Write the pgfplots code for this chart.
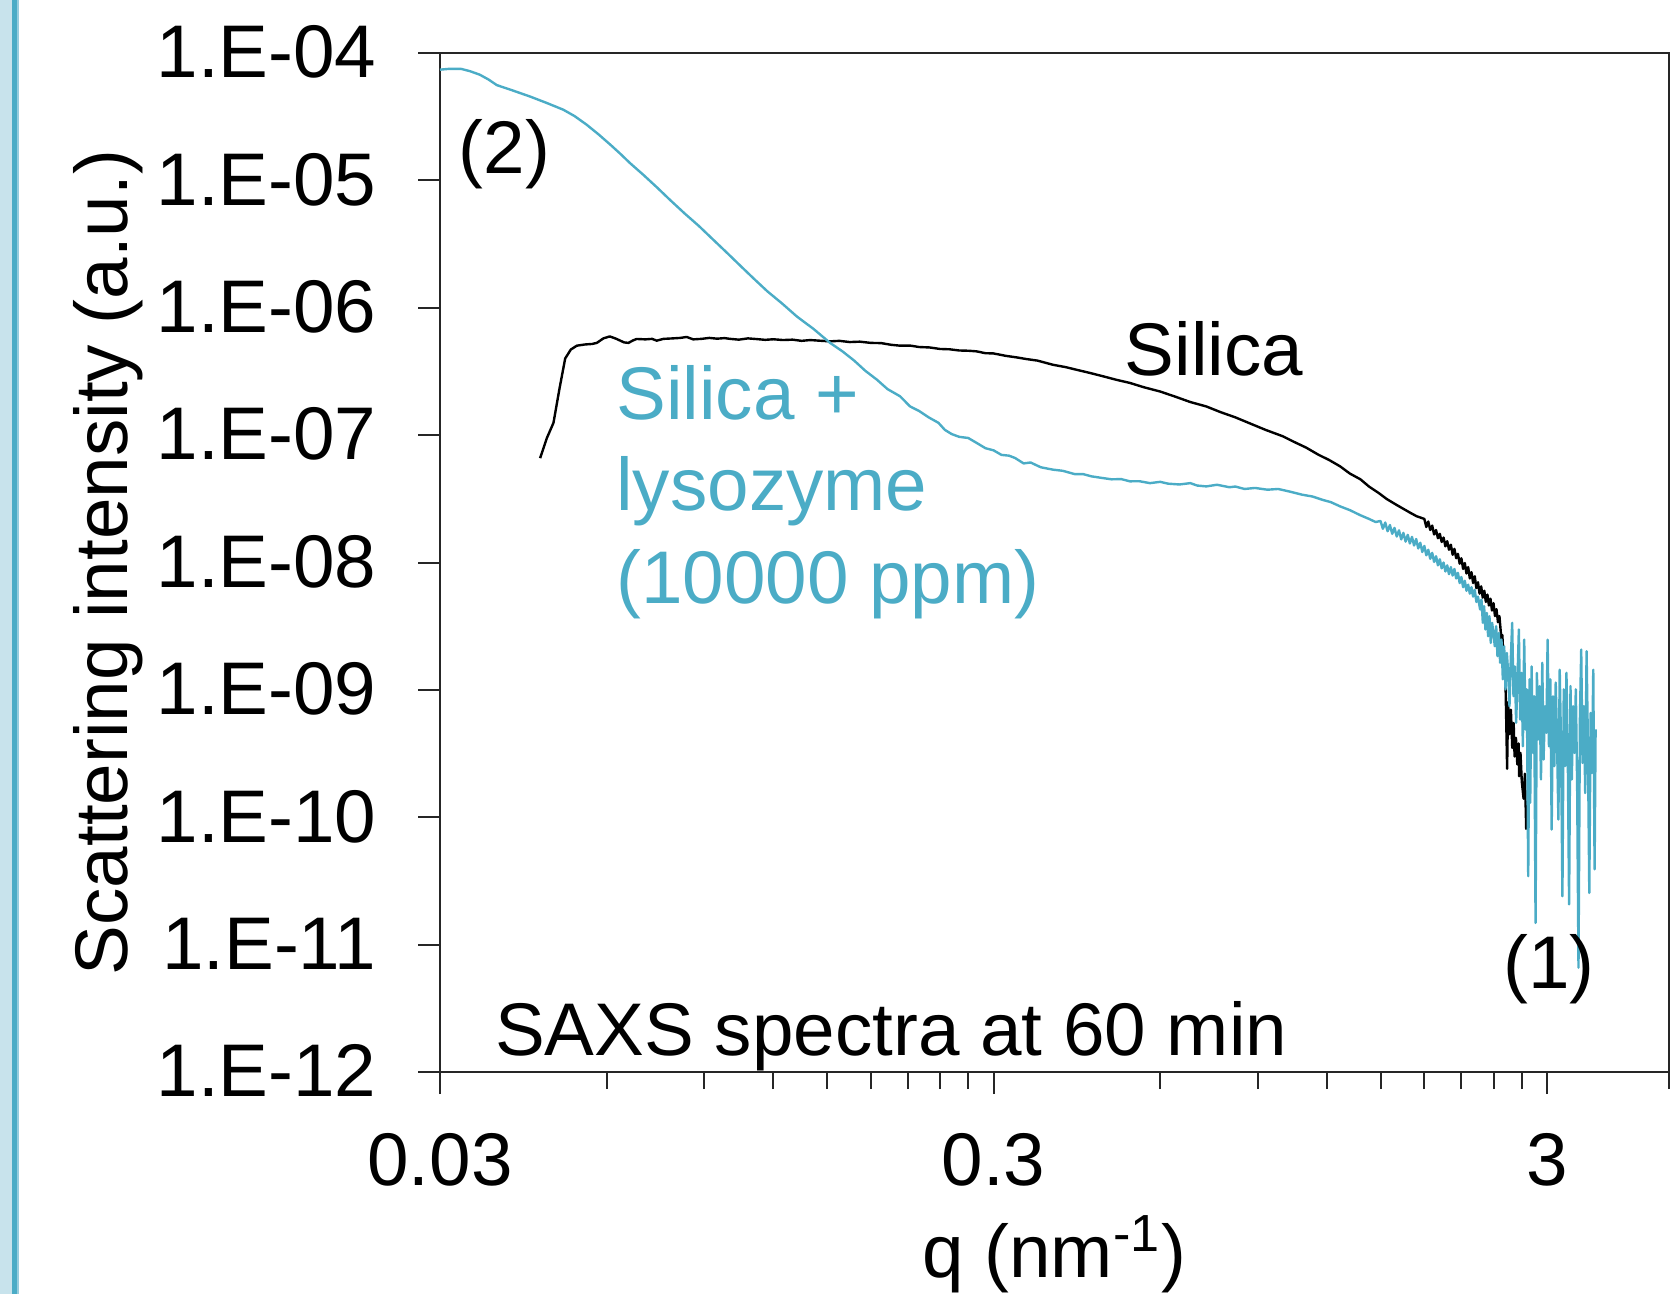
\documentclass[border=0pt]{standalone}
\usepackage{pgfplots}
\pgfplotsset{compat=1.18}
\usepackage{fontspec}
\setmainfont{Liberation Sans}
\definecolor{aqua}{RGB}{75,172,198}
\definecolor{lightaqua}{RGB}{200,227,236}
\definecolor{midaqua}{RGB}{150,205,222}

\pgfplotstableread{
q I
0.0455 6.6e-8
0.0468 9.5e-8
0.0481 1.25e-7
0.0493 2.3e-7
0.0505 4.0e-7
0.0517 4.7e-7
0.0530 5.04e-7
0.0548 5.15e-7
0.0565 5.2e-7
0.0576 5.3e-7
0.0592 5.75e-7
0.0608 5.96e-7
0.0625 5.7e-7
0.0645 5.35e-7
0.0657 5.3e-7
0.0670 5.55e-7
0.0680 5.69e-7
0.0705 5.65e-7
0.0725 5.7e-7
0.0739 5.52e-7
0.0760 5.7e-7
0.0790 5.75e-7
0.0815 5.8e-7
0.0837 5.9e-7
0.0860 5.65e-7
0.0890 5.7e-7
0.0920 5.8e-7
0.0950 5.72e-7
0.0980 5.78e-7
0.1003 5.7e-7
0.1040 5.62e-7
0.1080 5.75e-7
0.1120 5.68e-7
0.1160 5.6e-7
0.1200 5.66e-7
0.1250 5.58e-7
0.1300 5.62e-7
0.1350 5.5e-7
0.1400 5.58e-7
0.1450 5.52e-7
0.1520 5.45e-7
0.1580 5.5e-7
0.1650 5.38e-7
0.1720 5.42e-7
0.1800 5.3e-7
0.1880 5.28e-7
0.1960 5.12e-7
0.2033 5.04e-7
0.2120 5.05e-7
0.2200 4.92e-7
0.2300 4.88e-7
0.2400 4.75e-7
0.2500 4.72e-7
0.2600 4.62e-7
0.2700 4.6e-7
0.2795 4.55e-7
0.2900 4.4e-7
0.3000 4.38e-7
0.3150 4.2e-7
0.3300 4.08e-7
0.3450 3.95e-7
0.3600 3.85e-7
0.3840 3.57e-7
0.4050 3.42e-7
0.4250 3.25e-7
0.4450 3.1e-7
0.4700 2.92e-7
0.5000 2.72e-7
0.5290 2.57e-7
0.5600 2.38e-7
0.6000 2.2e-7
0.6400 2.0e-7
0.6800 1.82e-7
0.7270 1.68e-7
0.7700 1.52e-7
0.8200 1.38e-7
0.8700 1.24e-7
0.9300 1.1e-7
0.9990 9.8e-8
1.0500 8.8e-8
1.1000 8.0e-8
1.1600 7.0e-8
1.2100 6.4e-8
1.2680 5.69e-8
1.3200 5.0e-8
1.3800 4.5e-8
1.4300 3.95e-8
1.4880 3.52e-8
1.5400 3.15e-8
1.6000 2.85e-8
1.6600 2.6e-8
1.7000 2.45e-8
1.7430 2.31e-8
1.800 2.2e-8
1.815 1.9e-8
1.830 2.1e-8
1.845 1.8e-8
1.860 1.95e-8
1.875 1.66e-8
1.890 1.8e-8
1.905 1.55e-8
1.920 1.68e-8
1.935 1.45e-8
1.950 1.57e-8
1.965 1.34e-8
1.980 1.47e-8
1.995 1.26e-8
2.010 1.38e-8
2.025 1.15e-8
2.040 1.28e-8
2.055 1.08e-8
2.070 1.17e-8
2.085 9.8e-9
2.100 1.08e-8
2.115 8.9e-9
2.130 9.9e-9
2.145 8.2e-9
2.160 9.2e-9
2.175 7.5e-9
2.190 8.4e-9
2.205 6.9e-9
2.220 7.8e-9
2.235 6.3e-9
2.250 7.0e-9
2.265 5.7e-9
2.280 6.5e-9
2.295 5.3e-9
2.310 6.0e-9
2.325 4.9e-9
2.340 5.6e-9
2.355 4.6e-9
2.370 5.2e-9
2.385 4.2e-9
2.400 4.8e-9
2.415 3.8e-9
2.430 4.3e-9
2.445 3.4e-9
2.460 3.8e-9
2.4800 2.5e-9
2.4900 2.7e-9
2.5000 1.9e-9
2.5100 1.3e-9
2.5200 1.5e-9
2.5300 6e-10
2.5400 2.4e-10
2.5500 8e-10
2.5650 4.5e-10
2.5800 7e-10
2.5950 3.5e-10
2.6100 5.5e-10
2.6200 3.0e-10
2.6350 4.2e-10
2.6500 2.6e-10
2.6650 3.8e-10
2.6700 2.1e-10
2.6850 3.2e-10
2.7000 1.9e-10
2.7200 1.4e-10
2.7350 2.2e-10
2.7500 8e-11
}\silica

\pgfplotstableread{
q I
0.0300 7.4e-5
0.0310 7.5e-5
0.0328 7.5e-5
0.0340 7.2e-5
0.0354 6.76e-5
0.0367 6.2e-5
0.0380 5.6e-5
0.0405 5.1e-5
0.0436 4.56e-5
0.0468 4.05e-5
0.0501 3.59e-5
0.0525 3.2e-5
0.0552 2.74e-5
0.0580 2.3e-5
0.0610 1.9e-5
0.0635 1.62e-5
0.0661 1.37e-5
0.0700 1.1e-5
0.0740 8.8e-6
0.0781 7.03e-6
0.0830 5.5e-6
0.0880 4.4e-6
0.0935 3.42e-6
0.0990 2.7e-6
0.1045 2.15e-6
0.1104 1.71e-6
0.1170 1.35e-6
0.1245 1.08e-6
0.1323 8.56e-7
0.1420 6.8e-7
0.1520 5.3e-7
0.1600 4.55e-7
0.1680 3.85e-7
0.1760 3.2e-7
0.1846 2.73e-7
0.1930 2.3e-7
0.2033 2.02e-7
0.2120 1.68e-7
0.2200 1.55e-7
0.2290 1.38e-7
0.2385 1.25e-7
0.2450 1.1e-7
0.2520 1.02e-7
0.2600 9.7e-8
0.2700 9.5e-8
0.2795 8.7e-8
0.2900 7.9e-8
0.3000 7.6e-8
0.3100 7.0e-8
0.3200 6.9e-8
0.3280 6.62e-8
0.3400 6.0e-8
0.3500 6.1e-8
0.3650 5.6e-8
0.3840 5.36e-8
0.4000 5.25e-8
0.4200 4.95e-8
0.4350 4.95e-8
0.4506 4.75e-8
0.4700 4.62e-8
0.4900 4.5e-8
0.5100 4.52e-8
0.5290 4.34e-8
0.5500 4.35e-8
0.5750 4.2e-8
0.6000 4.3e-8
0.6200 4.16e-8
0.6500 4.1e-8
0.6800 4.2e-8
0.7000 4.02e-8
0.7270 3.96e-8
0.7600 4.08e-8
0.8000 3.9e-8
0.8200 3.95e-8
0.8520 3.78e-8
0.8900 3.85e-8
0.9375 3.73e-8
0.9800 3.78e-8
1.0300 3.6e-8
1.0820 3.41e-8
1.1300 3.3e-8
1.1800 3.1e-8
1.2200 2.98e-8
1.2680 2.76e-8
1.3200 2.58e-8
1.3800 2.35e-8
1.4300 2.2e-8
1.4700 2.08e-8
1.500 2.12e-8
1.515 1.84e-8
1.530 2.06e-8
1.545 1.76e-8
1.560 1.97e-8
1.575 1.68e-8
1.590 1.87e-8
1.605 1.6e-8
1.620 1.79e-8
1.635 1.52e-8
1.650 1.71e-8
1.665 1.46e-8
1.680 1.65e-8
1.695 1.41e-8
1.710 1.59e-8
1.725 1.36e-8
1.740 1.53e-8
1.755 1.29e-8
1.770 1.43e-8
1.785 1.21e-8
1.800 1.35e-8
1.815 1.14e-8
1.830 1.26e-8
1.845 1.07e-8
1.860 1.19e-8
1.875 1.01e-8
1.890 1.12e-8
1.905 9.5e-9
1.920 1.06e-8
1.935 9.0e-9
1.950 1.0e-8
1.965 8.5e-9
1.980 9.5e-9
1.995 8.1e-9
2.010 9.2e-9
2.025 7.9e-9
2.040 8.9e-9
2.055 7.5e-9
2.070 8.3e-9
2.085 6.9e-9
2.100 7.7e-9
2.115 6.4e-9
2.130 7.2e-9
2.145 6.0e-9
2.160 6.7e-9
2.175 5.7e-9
2.190 6.4e-9
2.205 5.4e-9
2.220 6.1e-9
2.235 4.9e-9
2.250 5.4e-9
2.270 4.28e-9
2.283 5.12e-9
2.296 3.36e-9
2.308 4.54e-9
2.321 2.98e-9
2.334 4.02e-9
2.347 2.64e-9
2.360 3.79e-9
2.373 2.34e-9
2.386 3.36e-9
2.400 2.80e-9
2.413 2.20e-9
2.427 3.16e-9
2.440 1.84e-9
2.454 2.80e-9
2.467 1.63e-9
2.481 2.48e-9
2.495 1.21e-9
2.509 2.20e-9
2.523 1.01e-9
2.537 1.95e-9
2.551 1.36e-9
2.565 7.44e-10
2.579 1.73e-9
2.594 3.36e-9
2.608 8.92e-10
2.623 1.53e-9
2.637 5.51e-10
2.652 1.21e-9
2.667 2.98e-9
2.682 5.85e-10
2.697 1.36e-9
2.712 3.61e-10
2.727 2.48e-9
2.742 4.89e-10
2.757 1.01e-9
2.773 3.45e-11
2.788 1.21e-9
2.796 1.30e-10
2.812 1.53e-9
2.828 3.20e-10
2.843 8.92e-10
2.859 1.48e-11
2.875 1.36e-9
2.891 4.08e-10
2.907 1.07e-9
2.924 1.98e-10
2.940 1.63e-9
2.956 2.84e-10
2.973 7.44e-10
2.990 4.60e-10
3.006 2.48e-9
3.023 3.61e-10
3.040 1.21e-9
3.057 8.0e-11
3.074 8.92e-10
3.091 2.52e-10
3.109 1.14e-9
3.126 4.08e-10
3.144 9.6e-11
3.161 1.44e-9
3.179 3.61e-10
3.197 2.40e-11
3.215 1.01e-9
3.233 2.52e-10
3.251 1.36e-9
3.269 3.20e-10
3.287 2.07e-11
3.306 1.07e-9
3.324 1.98e-10
3.343 7.44e-10
3.362 3.20e-10
3.380 1.01e-9
3.399 1.75e-10
3.418 6.6e-12
3.438 5.85e-10
3.457 2.07e-9
3.476 2.67e-10
3.496 7.44e-10
3.515 1.55e-10
3.535 2.01e-9
3.555 3.61e-10
3.575 2.55e-11
3.595 6.60e-10
3.615 2.23e-10
3.635 1.44e-9
3.655 3.9e-11
3.670 4.89e-10
}\lysozyme

\newcommand{\bigfont}{\fontsize{18.65}{22}\selectfont}

\begin{document}
\begin{tikzpicture}[x=1pt,y=1pt]
\fill[lightaqua] (0,0) rectangle (2.95,-323.5);
\fill[aqua] (2.95,0) rectangle (4.33,-323.5);
\fill[midaqua] (4.33,0) rectangle (4.65,-323.5);
\begin{axis}[
  at={(110pt,-268pt)}, anchor=south west,
  width=307.25pt, height=254.75pt, scale only axis,
  xmode=log, ymode=log,
  xmin=0.03, xmax=4.98, ymin=1e-12, ymax=1e-4,
  axis line style={black!85, line width=0.5pt},
  every tick/.style={black!85, line width=0.5pt},
  tick align=outside,
  xtick pos=left, ytick pos=left,
  major tick length=5.5pt, minor tick length=4.25pt,
  xtick={0.03,0.3,3}, xticklabels={0.03,0.3,3},
  minor xtick={0.06,0.09,0.12,0.15,0.18,0.21,0.24,0.27,0.6,0.9,1.2,1.5,1.8,2.1,2.4,2.7,4.98},
  ytick={1e-12,1e-11,1e-10,1e-9,1e-8,1e-7,1e-6,1e-5,1e-4},
  yticklabels={1.E-12,1.E-11,1.E-10,1.E-09,1.E-08,1.E-07,1.E-06,1.E-05,1.E-04},
  yminorticks=false,
  tick label style={font=\bigfont},
  yticklabel style={anchor=base east, inner sep=0pt, xshift=-10.2pt, yshift=-6.2pt},
  xticklabel style={anchor=base, inner sep=0pt, yshift=-22.9pt},
  xlabel={q (nm\textsuperscript{-1})},
  ylabel={Scattering intensity (a.u.)},
  label style={font=\bigfont, inner sep=0pt},
  xlabel style={at={(rel axis cs:0.5,-0.2012)}, anchor=base},
  ylabel style={at={(rel axis cs:-0.2539,0.5)}, anchor=base},
  clip=true,
]
\addplot[black, line width=0.6pt, line join=round] table[x=q,y=I] {\silica};
\addplot[aqua, line width=0.6pt, line join=round] table[x=q,y=I] {\lysozyme};
\end{axis}
\node[anchor=base west, inner sep=0pt, font=\bigfont] at (281,-93.9) {Silica};
\node[anchor=base west, inner sep=0pt, font=\bigfont, text=aqua] at (153.9,-105) {Silica +};
\node[anchor=base west, inner sep=0pt, font=\bigfont, text=aqua] at (153.9,-127.75) {lysozyme};
\node[anchor=base west, inner sep=0pt, font=\bigfont, text=aqua] at (153.9,-150.75) {(10000 ppm)};
\node[anchor=base west, inner sep=0pt, font=\bigfont] at (114.5,-43.3) {(2)};
\node[anchor=base west, inner sep=0pt, font=\bigfont] at (375.6,-247) {(1)};
\node[anchor=base west, inner sep=0pt, font=\bigfont] at (123.6,-263.75) {SAXS spectra at 60 min};
\pgfresetboundingbox
\path[use as bounding box] (0,0) rectangle (418.25,-323.5);
\end{tikzpicture}
\end{document}
